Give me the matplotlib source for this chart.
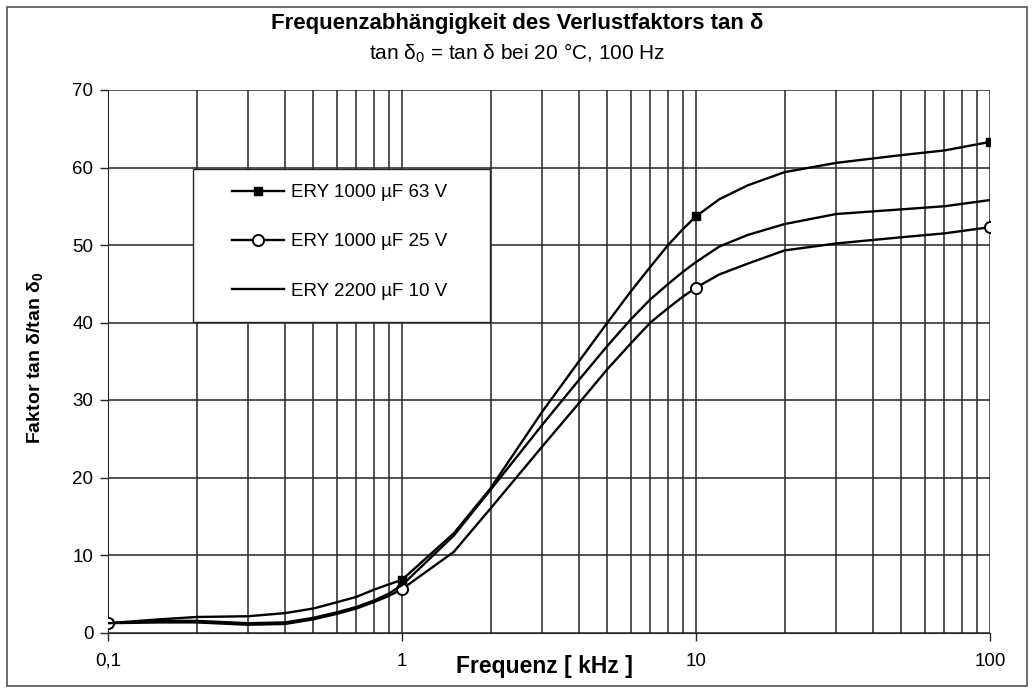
import matplotlib
matplotlib.use("Agg")
import matplotlib.pyplot as plt
from matplotlib.patches import Rectangle
from matplotlib.ticker import FixedLocator, FixedFormatter, NullFormatter, LogLocator

plt.rcParams['font.family'] = ['Liberation Sans', 'DejaVu Sans']
plt.rcParams['mathtext.default'] = 'regular'

# Data
freq_khz = [0.1, 0.15, 0.2, 0.3, 0.4, 0.5, 0.6, 0.7, 0.8, 0.9, 1, 1.5, 2, 3, 4, 5, 6, 7, 8, 9,
            10, 12, 15, 20, 30, 50, 70, 100]
ery_1000_63 = [1.2, 1.7, 2.0, 2.1, 2.5, 3.1, 3.9, 4.6, 5.5, 6.2, 6.8, 12.8, 18.6, 28.5, 35.0,
               40.0, 44.0, 47.2, 49.9, 52.0, 53.7, 55.9, 57.7, 59.4, 60.6, 61.6, 62.2, 63.3]
ery_1000_25 = [1.2, 1.3, 1.3, 1.0, 1.1, 1.7, 2.4, 3.1, 3.9, 4.7, 5.6, 10.4, 16.0, 24.0, 29.6,
               34.0, 37.3, 40.0, 41.8, 43.3, 44.5, 46.2, 47.6, 49.3, 50.2, 51.0, 51.5, 52.3]
ery_2200_10 = [1.2, 1.5, 1.5, 1.2, 1.3, 1.9, 2.6, 3.3, 4.1, 5.0, 6.1, 12.5, 18.4, 26.8, 32.6,
               37.0, 40.4, 43.0, 44.9, 46.5, 47.8, 49.8, 51.3, 52.7, 54.0, 54.6, 55.0, 55.8]
marker_idx = [0, 10, 20, 27]
labels = ["ERY 1000 µF 63 V", "ERY 1000 µF 25 V", "ERY 2200 µF 10 V"]
x_ticks = [0.1, 1, 10, 100]
x_ticklabels = ["0,1", "1", "10", "100"]
y_ticks = [0, 10, 20, 30, 40, 50, 60, 70]

W, H = 1034, 692
fig = plt.figure(figsize=(W / 100, H / 100), dpi=100)
ax_l, ax_r, ax_t, ax_b = 108, 990, 90, 632.5
ax = fig.add_axes([ax_l / W, 1 - ax_b / H, (ax_r - ax_l) / W, (ax_b - ax_t) / H])

ax.set_xscale('log')
ax.set_xlim(0.1, 100)
ax.set_ylim(0, 70)

ax.xaxis.set_major_locator(FixedLocator(x_ticks))
ax.xaxis.set_major_formatter(FixedFormatter(x_ticklabels))
ax.xaxis.set_minor_locator(LogLocator(base=10, subs=range(2, 10)))
ax.xaxis.set_minor_formatter(NullFormatter())
ax.yaxis.set_major_locator(FixedLocator(y_ticks))

gc = '#262626'
ax.grid(True, which='major', axis='both', color=gc, lw=1.1)
ax.grid(True, which='minor', axis='x', color=gc, lw=1.1)
ax.tick_params(axis='both', which='major', labelsize=13.5, length=5.5, width=1, color=gc)
ax.tick_params(axis='y', which='major', pad=5)
ax.tick_params(axis='x', which='minor', length=0)
ax.tick_params(axis='x', which='major', pad=9)
for s in ['top', 'right']:
    ax.spines[s].set_visible(False)
for s in ['left', 'bottom']:
    ax.spines[s].set_color(gc)
ax.set_axisbelow(True)

ax.plot(freq_khz, ery_1000_63, color='black', lw=1.7, marker='s', ms=5.5,
        markevery=marker_idx, mfc='black', mec='black', label=labels[0], zorder=5)
ax.plot(freq_khz, ery_1000_25, color='black', lw=1.7, marker='o', ms=8,
        markevery=marker_idx, mfc='white', mec='black', mew=1.4, label=labels[1], zorder=5)
ax.plot(freq_khz, ery_2200_10, color='black', lw=1.7, label=labels[2], zorder=5)

# legend box
lx0, ly0, lx1, ly1 = 193, 169, 490, 322
rect = Rectangle(((lx0 - ax_l) / (ax_r - ax_l), (ax_b - ly1) / (ax_b - ax_t)),
                 (lx1 - lx0) / (ax_r - ax_l), (ly1 - ly0) / (ax_b - ax_t),
                 transform=ax.transAxes, facecolor='white', edgecolor=gc, lw=1, zorder=3)
ax.add_patch(rect)
leg = ax.legend(loc='upper left', bbox_to_anchor=((232 - ax_l) / (ax_r - ax_l), (ax_b - 184) / (ax_b - ax_t)),
                frameon=False, fontsize=13.5, handlelength=2.75, handletextpad=0.4,
                labelspacing=1.72, borderpad=0, borderaxespad=0)
leg.set_zorder(6)

fig.text(0.5, 1 - 23 / H, "Frequenzabhängigkeit des Verlustfaktors tan δ", ha='center', va='center',
         fontsize=16, fontweight='bold')
fig.text(0.5, 1 - 53 / H, "tan δ$_0$ = tan δ bei 20 °C, 100 Hz", ha='center', va='center', fontsize=15)
fig.text(544 / W, 1 - 667 / H, "Frequenz [ kHz ]", ha='center', va='center', fontsize=16.5, fontweight='bold')
fig.text(35 / W, 1 - 358 / H, "Faktor tan δ/tan δ$_0$", ha='center', va='center', rotation=90,
         fontsize=14, fontweight='bold')

fig.patches.append(Rectangle((7 / W, 1 - 686 / H), (1027 - 7) / W, (686 - 7) / H,
                             transform=fig.transFigure, fill=False, edgecolor='#555555', lw=1.2))

fig.savefig('out.png', dpi=100)
